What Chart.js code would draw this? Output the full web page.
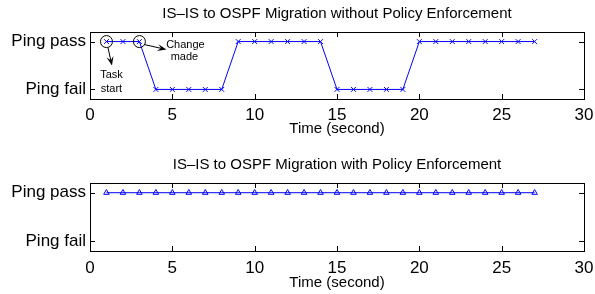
<!DOCTYPE html>
<html>
<head>
<meta charset="utf-8">
<script src="https://cdn.jsdelivr.net/npm/chart.js@4"></script>
<style>
    html, body { margin: 0; padding: 0; background: #fff; }
    .panel { position: absolute; left: 0; width: 595px; height: 147px; }
    #topPanel { top: 0; }
    #bottomPanel { top: 147px; }
</style>
</head>
<body>
<div class="panel" id="topPanel"><canvas id="chartWithout"></canvas></div>
<div class="panel" id="bottomPanel"><canvas id="chartWith"></canvas></div>
<script>
/* =========================================================
   DATA
========================================================= */
const seconds = [1, 2, 3, 4, 5, 6, 7, 8, 9, 10, 11, 12, 13, 14,
                 15, 16, 17, 18, 19, 20, 21, 22, 23, 24, 25, 26, 27];

// 1 = ping pass, 0 = ping fail
const withoutPolicy = [1, 1, 1, 0, 0, 0, 0, 0, 1, 1, 1, 1, 1, 1,
                       0, 0, 0, 0, 0, 1, 1, 1, 1, 1, 1, 1, 1];
const withPolicy = [1, 1, 1, 1, 1, 1, 1, 1, 1, 1, 1, 1, 1, 1,
                    1, 1, 1, 1, 1, 1, 1, 1, 1, 1, 1, 1, 1];

const yTickValues = [0, 1];
const yTickLabels = ['Ping fail', 'Ping pass'];

const titles = [
    'IS\u2013IS to OSPF Migration without Policy Enforcement',
    'IS\u2013IS to OSPF Migration with Policy Enforcement'
];
const xAxisTitle = 'Time (second)';

// annotation: index of the circled point and its text lines
const notes = [
    { index: 0, lines: ['Task', 'start'] },
    { index: 2, lines: ['Change', 'made'] }
];

/* =========================================================
   HELPER
========================================================= */
const fontFamily = '"Liberation Sans", Arial, Helvetica, sans-serif';
const blue = '#0000ff';

function toPoints(values) {
    return seconds.map((s, i) => ({ x: s, y: values[i] }));
}

function arrow(ctx, x1, y1, x2, y2) {
    const ang = Math.atan2(y2 - y1, x2 - x1);
    const len = 9, wid = 3.5;
    const cos = Math.cos(ang), sin = Math.sin(ang);
    ctx.beginPath();
    ctx.moveTo(x1, y1);
    ctx.lineTo(x2 - cos * len * 0.6, y2 - sin * len * 0.6);
    ctx.stroke();
    ctx.beginPath();
    ctx.moveTo(x2, y2);
    ctx.lineTo(x2 - cos * len - sin * wid, y2 - sin * len + cos * wid);
    ctx.lineTo(x2 - cos * len * 0.6, y2 - sin * len * 0.6);
    ctx.lineTo(x2 - cos * len + sin * wid, y2 - sin * len - cos * wid);
    ctx.closePath();
    ctx.fill();
}

/* =========================================================
   PLUGINS
========================================================= */
// MATLAB style box with inward ticks on all four sides
const boxPlugin = {
    id: 'matlabBox',
    afterDraw(chart) {
        const { ctx, chartArea: a, scales } = chart;
        const t = 5;
        ctx.save();
        ctx.strokeStyle = '#000';
        ctx.lineWidth = 1;
        ctx.strokeRect(Math.round(a.left) + 0.5, Math.round(a.top) + 0.5,
                       Math.round(a.right - a.left), Math.round(a.bottom - a.top));
        ctx.beginPath();
        scales.x.ticks.forEach(tk => {
            const x = Math.round(scales.x.getPixelForValue(tk.value)) + 0.5;
            ctx.moveTo(x, a.bottom); ctx.lineTo(x, a.bottom - t);
            ctx.moveTo(x, a.top); ctx.lineTo(x, a.top + t);
        });
        scales.y.ticks.forEach(tk => {
            const y = Math.round(scales.y.getPixelForValue(tk.value)) + 0.5;
            ctx.moveTo(a.left, y); ctx.lineTo(a.left + t, y);
            ctx.moveTo(a.right, y); ctx.lineTo(a.right - t, y);
        });
        ctx.stroke();
        ctx.restore();
    }
};

// circles, arrows and text on the first chart
const notePlugin = {
    id: 'notes',
    afterDatasetsDraw(chart, args, opts) {
        if (!opts.show) return;
        const { ctx } = chart;
        const pts = chart.getDatasetMeta(0).data;
        ctx.save();
        ctx.strokeStyle = '#000';
        ctx.fillStyle = '#000';
        ctx.lineWidth = 1;
        ctx.font = '11px ' + fontFamily;
        ctx.textAlign = 'center';
        ctx.textBaseline = 'middle';

        const p0 = pts[notes[0].index];
        const p1 = pts[notes[1].index];
        [p0, p1].forEach(p => {
            ctx.beginPath();
            ctx.arc(p.x, p.y, 6, 0, Math.PI * 2);
            ctx.stroke();
        });

        arrow(ctx, p0.x + 1.5, p0.y + 6, p0.x + 5.5, p0.y + 24);
        ctx.fillText(notes[0].lines[0], p0.x + 5, p0.y + 33);
        ctx.fillText(notes[0].lines[1], p0.x + 5, p0.y + 47);

        arrow(ctx, p1.x + 5, p1.y + 3, p1.x + 27, p1.y + 8);
        ctx.fillText(notes[1].lines[0], p1.x + 46, p1.y + 3.5);
        ctx.fillText(notes[1].lines[1], p1.x + 45, p1.y + 15.5);
        ctx.restore();
    }
};

/* =========================================================
   CHART INIT
========================================================= */
function makeChart(id, values, marker, title, lay) {
    return new Chart(document.getElementById(id), {
        type: 'line',
        data: {
            datasets: [{
                data: toPoints(values),
                borderColor: blue,
                backgroundColor: 'rgba(0,0,0,0)',
                borderWidth: 1,
                pointStyle: marker,
                pointRadius: marker === 'triangle' ? 3.2 : 3.4,
                pointBorderColor: blue,
                pointBorderWidth: 1,
                tension: 0
            }]
        },
        plugins: [boxPlugin, notePlugin],
        options: {
            responsive: true,
            maintainAspectRatio: false,
            animation: false,
            layout: { padding: { left: 0, right: 11, top: 0, bottom: 0 } },
            plugins: {
                legend: { display: false },
                tooltip: { enabled: false },
                notes: { show: lay.notes },
                title: {
                    display: true,
                    text: title,
                    fullSize: false,
                    color: '#000',
                    font: { family: fontFamily, size: 15, weight: 'normal', lineHeight: 1.2 },
                    padding: { top: lay.titleTop, bottom: lay.titleBottom }
                }
            },
            scales: {
                x: {
                    type: 'linear',
                    min: 0,
                    max: 30,
                    grid: { display: false, drawTicks: false },
                    border: { display: false },
                    ticks: {
                        stepSize: 5,
                        color: '#000',
                        padding: lay.xTickPad,
                        maxRotation: 0,
                        font: { family: fontFamily, size: 17 }
                    },
                    title: {
                        display: true,
                        text: xAxisTitle,
                        color: '#000',
                        font: { family: fontFamily, size: 15 },
                        padding: { top: 0, bottom: lay.xTitlePad }
                    },
                    afterFit(scale) {
                        scale.height = lay.xHeight;
                        scale.paddingLeft = 0;
                        scale.paddingRight = 0;
                    }
                },
                y: {
                    min: -0.2,
                    max: 1.2,
                    grid: { display: false, drawTicks: false },
                    border: { display: false },
                    afterBuildTicks(scale) {
                        scale.ticks = yTickValues.map(v => ({ value: v }));
                    },
                    ticks: {
                        color: '#000',
                        padding: 4,
                        font: { family: fontFamily, size: 17 },
                        callback: v => yTickLabels[yTickValues.indexOf(v)]
                    },
                    afterFit(scale) { scale.width = 90; }
                }
            }
        }
    });
}

makeChart('chartWithout', withoutPolicy, 'crossRot', titles[0],
    { titleTop: 5, titleBottom: 9, xHeight: 48, xTickPad: 6, xTitlePad: 9, notes: true });

makeChart('chartWith', withPolicy, 'triangle', titles[1],
    { titleTop: 9, titleBottom: 9, xHeight: 43, xTickPad: 7, xTitlePad: 2, notes: false });
</script>
</body>
</html>
